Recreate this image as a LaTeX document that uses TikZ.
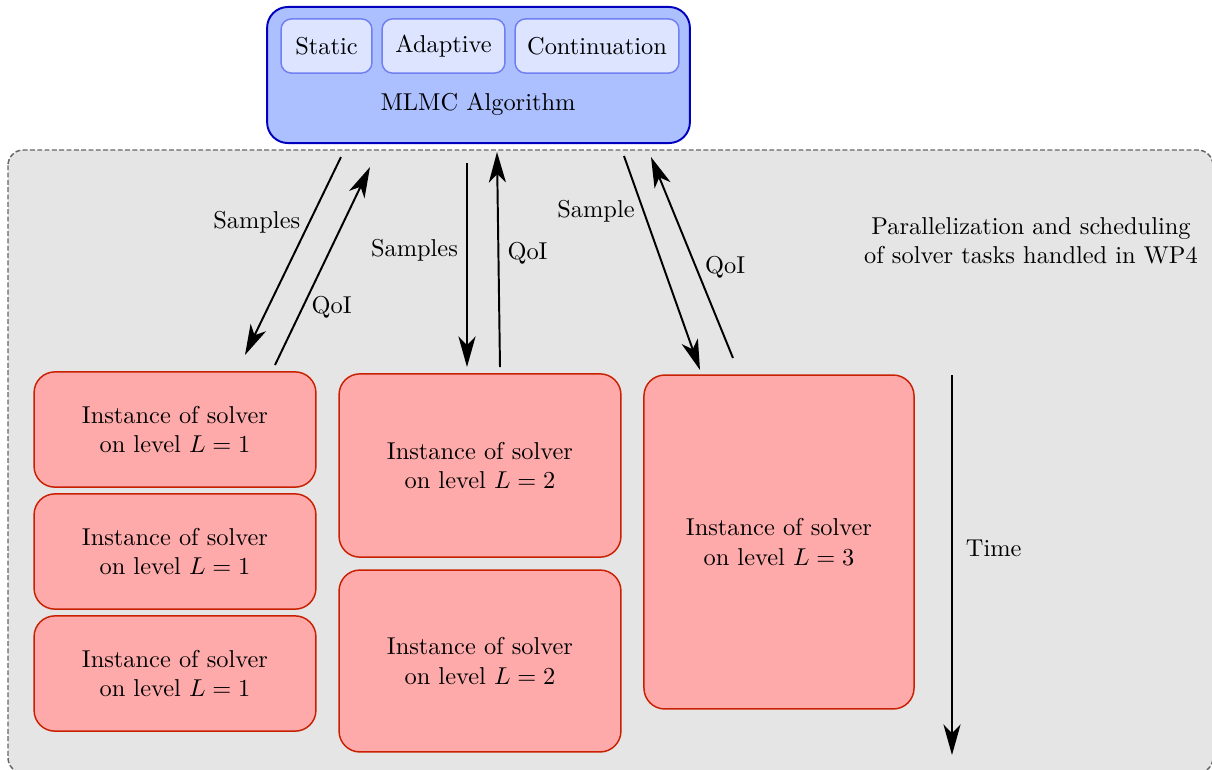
\documentclass[tikz,border=0pt]{standalone}
\usepackage{amsmath, amssymb}
\usepackage{tikz}
\usetikzlibrary{arrows.meta, positioning}

\definecolor{algfill}{RGB}{172,192,255}
\definecolor{algdraw}{RGB}{0,0,190}
\definecolor{varfill}{RGB}{220,228,255}
\definecolor{vardraw}{RGB}{112,128,240}
\definecolor{solfill}{RGB}{255,170,170}
\definecolor{soldraw}{RGB}{200,32,0}

\begin{document}
\begin{tikzpicture}[x=0.0144cm, y=-0.0144cm,
    algbox/.style={draw=algdraw, fill=algfill, thick, rounded corners=0.3cm},
    varbox/.style={draw=vardraw, fill=varfill, semithick, rounded corners=0.15cm,
        minimum height=0.78cm, inner sep=0pt},
    solverbox/.style={draw=soldraw, fill=solfill, semithick, rounded corners=0.3cm,
        align=center, inner sep=0pt},
    flow/.style={-{Stealth[length=12.5pt, width=7pt, inset=3.5pt]}, thick}]
    \useasboundingbox (0,0) rectangle (1212,769);

    % area handled by the scheduler
    \filldraw[fill=black!10, draw=black!60, semithick, dash pattern=on 2pt off 1pt,
        rounded corners=0.22cm]
        (8,150) rectangle (1213,773);
    \node[align=center] (sched) at (1031,241)
        {Parallelization and scheduling\\of solver tasks handled in WP4};

    % algorithm with its variants
    \node[algbox, minimum width=6.09cm, minimum height=1.96cm] (mlmc) at (478.5,75) {};
    \node (mlmclabel) at (478,104) {MLMC Algorithm};
    \node[varbox, minimum width=1.31cm] (static) at (326.5,46) {Static};
    \node[varbox, minimum width=1.77cm] (adaptive) at (443.5,46) {Adaptive};
    \node[varbox, minimum width=2.36cm] (contin) at (597,46) {Continuation};

    % solver instances
    \node[solverbox, minimum width=4.06cm, minimum height=1.66cm] (lone a) at (175,429.5)
        {Instance of solver\\on level $L = 1$};
    \node[solverbox, minimum width=4.06cm, minimum height=1.66cm] (lone b) at (175,551.5)
        {Instance of solver\\on level $L = 1$};
    \node[solverbox, minimum width=4.06cm, minimum height=1.66cm] (lone c) at (175,673.5)
        {Instance of solver\\on level $L = 1$};
    \node[solverbox, minimum width=4.06cm, minimum height=2.64cm] (ltwo a) at (480,465.5)
        {Instance of solver\\on level $L = 2$};
    \node[solverbox, minimum width=4.06cm, minimum height=2.62cm] (ltwo b) at (480,661)
        {Instance of solver\\on level $L = 2$};
    \node[solverbox, minimum width=3.89cm, minimum height=4.81cm] (lthree) at (779,542)
        {Instance of solver\\on level $L = 3$};

    % ends of the exchanges
    \coordinate (out one) at (341,157);  \coordinate (in one) at (245,355);
    \coordinate (back one) at (275,365); \coordinate (ret one) at (370,167);
    \coordinate (out two) at (467,163);  \coordinate (in two) at (467,367);
    \coordinate (back two) at (500,367); \coordinate (ret two) at (497,152);
    \coordinate (out three) at (624,156); \coordinate (in three) at (700,370);
    \coordinate (back three) at (733,358); \coordinate (ret three) at (651,157);
    \coordinate (time start) at (952,375); \coordinate (time end) at (952,755);

    \draw[flow] (out one) -- (in one) node[pos=0.33, left] {Samples};
    \draw[flow] (back one) -- (ret one) node[pos=0.29, right] {QoI};
    \draw[flow] (out two) -- (in two) node[pos=0.43, left] {Samples};
    \draw[flow] (back two) -- (ret two) node[pos=0.53, right] {QoI};
    \draw[flow] (out three) -- (in three) node[pos=0.26, left] {Sample};
    \draw[flow] (back three) -- (ret three) node[pos=0.45, right] {QoI};

    \draw[flow] (time start) -- (time end) node[pos=0.455, right=2pt] {Time};
\end{tikzpicture}
\end{document}
